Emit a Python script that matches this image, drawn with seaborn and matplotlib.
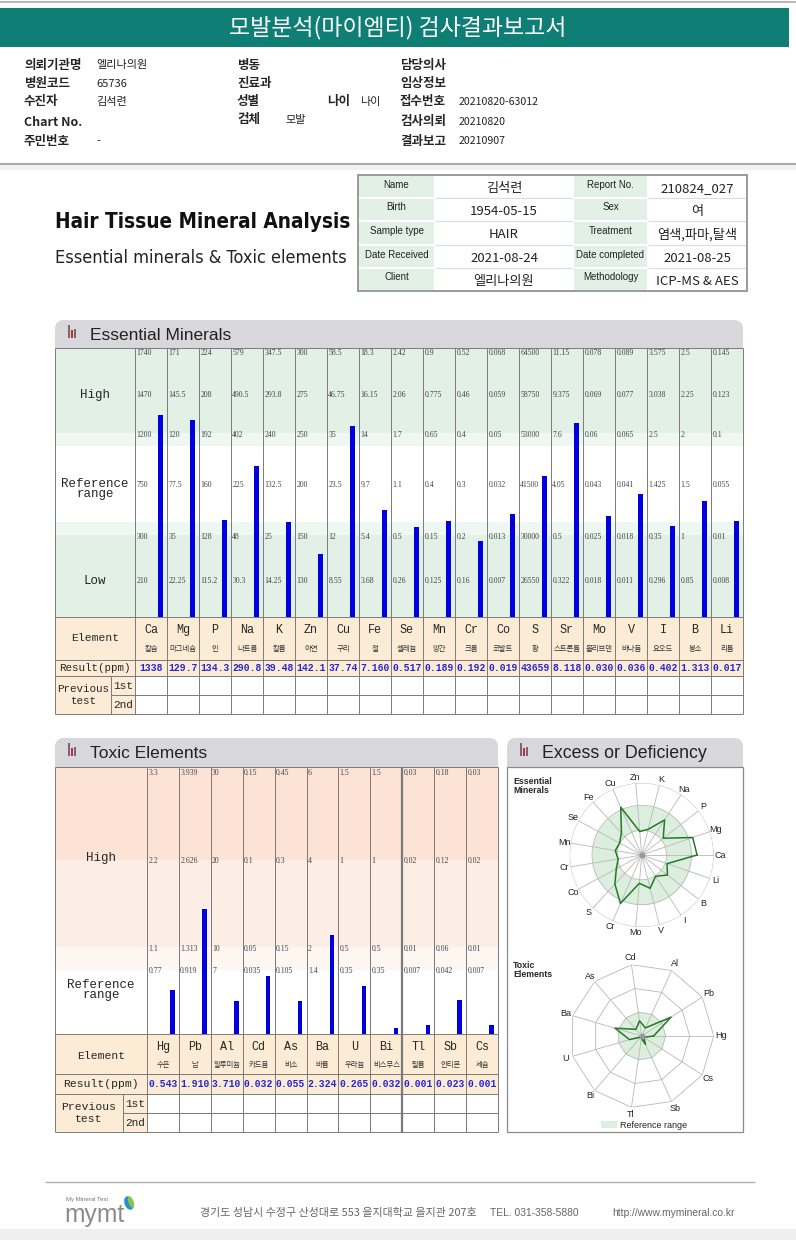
import numpy as np
import pandas as pd
import matplotlib
matplotlib.use("Agg")
import matplotlib.pyplot as plt
import seaborn as sns
from matplotlib.patches import Rectangle, FancyBboxPatch, Ellipse
from matplotlib import font_manager

# ---------------- data ----------------
ess_symbols = ["Ca", "Mg", "P", "Na", "K", "Zn", "Cu", "Fe", "Se", "Mn",
               "Cr", "Co", "S", "Sr", "Mo", "V", "I", "B", "Li"]
ess_korean = ["칼슘", "마그네슘", "인", "나트륨", "칼륨", "아연", "구리", "철", "셀레늄", "망간",
              "크롬", "코발트", "황", "스트론튬", "몰리브덴", "바나듐", "요오드", "붕소", "리튬"]
ess_result = [1338, 129.7, 134.3, 290.8, 39.48, 142.1, 37.74, 7.160, 0.517, 0.189,
              0.192, 0.019, 43659, 8.118, 0.030, 0.036, 0.402, 1.313, 0.017]
ess_low2 = [210, 22.25, 115.2, 30.3, 14.25, 130, 8.55, 3.68, 0.26, 0.125,
            0.16, 0.007, 26550, 0.322, 0.018, 0.011, 0.296, 0.85, 0.008]
ess_low1 = [300, 35, 128, 48, 25, 150, 12, 5.4, 0.5, 0.15,
            0.2, 0.013, 30000, 0.5, 0.025, 0.018, 0.35, 1, 0.01]
ess_mid = [750, 77.5, 160, 225, 132.5, 200, 23.5, 9.7, 1.1, 0.4,
           0.3, 0.032, 41500, 4.05, 0.043, 0.041, 1.425, 1.5, 0.055]
ess_high1 = [1200, 120, 192, 402, 240, 250, 35, 14, 1.7, 0.65,
             0.4, 0.05, 53000, 7.6, 0.06, 0.065, 2.5, 2, 0.1]
ess_high2 = [1470, 145.5, 208, 490.5, 293.8, 275, 46.75, 16.15, 2.06, 0.775,
             0.46, 0.059, 58750, 9.375, 0.069, 0.077, 3.038, 2.25, 0.123]
ess_high3 = [1740, 171, 224, 579, 347.5, 300, 58.5, 18.3, 2.42, 0.9,
             0.52, 0.068, 64500, 11.15, 0.078, 0.089, 3.575, 2.5, 0.145]
ess_radar_labels = ["Ca", "Mg", "P", "Na", "K", "Zn", "Cu", "Fe", "Se", "Mn",
                    "Cr", "Co", "S", "Cr", "Mo", "V", "I", "B", "Li"]

tox_symbols = ["Hg", "Pb", "Al", "Cd", "As", "Ba", "U", "Bi", "Tl", "Sb", "Cs"]
tox_korean = ["수은", "납", "알루미늄", "카드뮴", "비소", "바륨", "우라늄", "비스무스", "탈륨", "안티몬", "세슘"]
tox_result = [0.543, 1.910, 3.710, 0.032, 0.055, 2.324, 0.265, 0.032, 0.001, 0.023, 0.001]
tox_lvl1 = [0.77, 0.919, 7, 0.035, 0.105, 1.4, 0.35, 0.35, 0.007, 0.042, 0.007]
tox_lvl2 = [1.1, 1.313, 10, 0.05, 0.15, 2, 0.5, 0.5, 0.01, 0.06, 0.01]
tox_lvl3 = [2.2, 2.626, 20, 0.1, 0.3, 4, 1, 1, 0.02, 0.12, 0.02]
tox_lvl4 = [3.3, 3.939, 30, 0.15, 0.45, 6, 1.5, 1.5, 0.03, 0.18, 0.03]

info_col1_labels = ["의뢰기관명", "병원코드", "수진자", "Chart No.", "주민번호"]
info_col1_values = ["엘리나의원", "65736", "김석련", "", "-"]
info_col2_labels = ["병동", "진료과", "성별", "검체"]
info_col2_values = ["", "", "", "모발"]
info_col3_labels = ["담당의사", "임상정보", "접수번호", "검사의뢰", "결과보고"]
info_col3_values = ["", "", "20210820-63012", "20210820", "20210907"]

sample_labels_left = ["Name", "Birth", "Sample type", "Date Received", "Client"]
sample_values_left = ["김석련", "1954-05-15", "HAIR", "2021-08-24", "엘리나의원"]
sample_labels_right = ["Report No.", "Sex", "Treatment", "Date completed", "Methodology"]
sample_values_right = ["210824_027", "여", "염색,파마,탈색", "2021-08-25", "ICP-MS & AES"]

# ---------------- style ----------------
sns.set_theme(style="white")
KR = "Noto Sans CJK KR"
SANS = "Liberation Sans"
SERIF = "Liberation Serif"
MONO = "Liberation Mono"
plt.rcParams["font.family"] = [SANS, KR, "DejaVu Sans"]
available = {f.name for f in font_manager.fontManager.ttflist}
NARROW = "Liberation Sans Narrow" if "Liberation Sans Narrow" in available else SANS
has_condensed = any(f.name == "DejaVu Sans" and f.stretch == "condensed"
                    for f in font_manager.fontManager.ttflist)
TITLE_FONT = dict(family="DejaVu Sans", fontstretch="condensed") if has_condensed else dict(family=NARROW)

TEAL = "#0f7f76"
GREEN = "#e2f0e6"
GREEN_L = "#eef7f1"
PEACH = "#fcecd5"
PEACH_D = "#fce3d5"
PEACH_M = "#fdeee5"
PEACH_L = "#fef6f1"
HEAD_GRAY = "#d8d8dc"
BLUE = "#0000dd"
RADAR_GREEN = "#dcefdf"
LINE = "#7a7a7a"

W, H = 796, 1240
fig = plt.figure(figsize=(W / 100, H / 100), dpi=100)
ax0 = fig.add_axes([0, 0, 1, 1])
ax0.set_xlim(0, W)
ax0.set_ylim(H, 0)
ax0.axis("off")


def box(x0, y0, x1, y1, fc="none", ec="none", lw=0, z=1):
    ax0.add_patch(Rectangle((x0, y0), x1 - x0, y1 - y0, facecolor=fc,
                            edgecolor=ec, linewidth=lw, zorder=z))


def hline(y, x0, x1, c=LINE, lw=0.7, z=3):
    ax0.plot([x0, x1], [y, y], color=c, lw=lw, zorder=z, solid_capstyle="butt")


def vline(x, y0, y1, c=LINE, lw=0.7, z=3):
    ax0.plot([x, x], [y0, y1], color=c, lw=lw, zorder=z, solid_capstyle="butt")


def fit(t, width):
    r = fig.canvas.get_renderer()
    w = t.get_window_extent(renderer=r).width
    if w > 0:
        t.set_fontsize(t.get_fontsize() * width / w)


def panel_header(x0, x1, y0, title, text_w):
    ax0.add_patch(FancyBboxPatch((x0, y0), x1 - x0, 40,
                                 boxstyle="round,pad=0,rounding_size=9",
                                 facecolor=HEAD_GRAY, edgecolor="none", zorder=1))
    box(x0 + 13, y0 + 5, x0 + 15, y0 + 18, fc="#6d6d6d", z=2)
    box(x0 + 16, y0 + 10, x0 + 18, y0 + 18, fc="#d9262c", z=2)
    box(x0 + 19, y0 + 9, x0 + 21, y0 + 18, fc="#6d6d6d", z=2)
    t = ax0.text(x0 + 35, y0 + 15, title, fontsize=12, ha="left", va="center",
                 family=SANS, color="#222", zorder=4)
    fit(t, text_w)


def fmt_result(v):
    if v >= 1000:
        return f"{v:.0f}"
    if v >= 1:
        return f"{v:.{4 - len(str(int(v)))}f}"
    return f"{v:.3f}"


# ---------------- report header ----------------
hline(2, 0, W, "#b8b8b8", 1.4)
box(0, 8, 789, 47, fc=TEAL)
t = ax0.text(398, 28, "모발분석(마이엠티) 검사결과보고서", color="white", ha="center",
             va="center", family=KR, fontsize=15, zorder=4)
fit(t, 336)

rows_y = [65, 84, 102, 122, 141]
for y, lab, val in zip(rows_y, info_col1_labels, info_col1_values):
    ax0.text(24, y, lab, family=KR, fontweight="bold", fontsize=9, va="center")
    ax0.text(96, y, val, family=KR, fontsize=8, va="center", color="#222")
for y, lab, val in zip([65, 84, 102, 120], info_col2_labels, info_col2_values):
    ax0.text(237, y, lab, family=KR, fontweight="bold", fontsize=9, va="center")
    ax0.text(285, y, val, family=KR, fontsize=8, va="center", color="#222")
ax0.text(327, 102, "나이", family=KR, fontweight="bold", fontsize=9, va="center")
ax0.text(360, 102, "나이", family=KR, fontsize=8, va="center", color="#222")
for y, lab, val in zip(rows_y, info_col3_labels, info_col3_values):
    ax0.text(400, y, lab, family=KR, fontweight="bold", fontsize=9, va="center")
    ax0.text(459, y, val, family=KR, fontsize=7.6, va="center", color="#222")
hline(164, 0, W, "#a8a8a8", 1.4)
box(0, 165, W, 170, fc="#f1f1f1")

# ---------------- title block ----------------
t = ax0.text(55, 222, "Hair Tissue Mineral Analysis", fontweight="bold",
             fontsize=22, ha="left", va="center", color="#111", **TITLE_FONT)
fit(t, 293)
t = ax0.text(55, 258, "Essential minerals & Toxic elements",
             fontsize=15, ha="left", va="center", color="#222", **TITLE_FONT)
fit(t, 292)

sx = [358, 435, 573, 648, 747]
sy = [175, 198, 221, 245, 268, 291]
box(358, 175, 747, 291, fc="white")
for r in range(5):
    y0, y1 = sy[r], sy[r + 1]
    box(sx[0], y0, sx[1], y1, fc=GREEN, ec="white", lw=1.5, z=2)
    box(sx[2], y0, sx[3], y1, fc=GREEN, ec="white", lw=1.5, z=2)
    if r < 4:
        hline(y1, sx[1], sx[2], "#dcdcdc", 0.8)
        hline(y1, sx[3], sx[4], "#dcdcdc", 0.8)
    yc = (y0 + y1) / 2
    ax0.text((sx[0] + sx[1]) / 2, yc - 2, sample_labels_left[r], family=NARROW,
             fontsize=7, ha="center", va="center", color="#222", zorder=4)
    ax0.text((sx[2] + sx[3]) / 2, yc - 2, sample_labels_right[r], family=NARROW,
             fontsize=7, ha="center", va="center", color="#222", zorder=4)
    ax0.text((sx[1] + sx[2]) / 2, yc + 2, sample_values_left[r], family=KR,
             fontsize=9.5, ha="center", va="center", color="#222", zorder=4)
    ax0.text((sx[3] + sx[4]) / 2, yc + 2, sample_values_right[r], family=KR,
             fontsize=9.5, ha="center", va="center", color="#222", zorder=4)
box(358, 175, 747, 291, ec="#9a9a9a", lw=1.4, z=5)

# ---------------- essential minerals ----------------
EX0, EX1, EC0, ECW = 55, 743, 135, 32
panel_header(EX0, EX1, 320, "Essential Minerals", 141)
box(EX0, 348, EX1, 433, fc=GREEN, z=2)
box(EX0, 433, EX1, 446, fc=GREEN_L, z=2)
box(EX0, 446, EX1, 522, fc="white", z=2)
box(EX0, 522, EX1, 535, fc=GREEN_L, z=2)
box(EX0, 535, EX1, 617, fc=GREEN, z=2)
box(EX0, 617, EX1, 676, fc=PEACH, z=2)
box(EX0, 676, EC0, 714, fc=PEACH, z=2)
box(EC0, 676, EX1, 714, fc="white", z=2)
for i in range(len(ess_symbols) + 1):
    vline(EC0 + ECW * i, 348, 714)
vline(EX0, 348, 714)
vline(111, 676, 714)
for y in (348, 617, 660, 676, 714):
    hline(y, EX0, EX1)
hline(695, 111, EX1)

ax0.text(95, 395, "High", family=MONO, fontsize=9, ha="center", va="center", zorder=4)
ax0.text(95, 489, "Reference\nrange", family=MONO, fontsize=9, ha="center", va="center",
         linespacing=0.85, zorder=4)
ax0.text(95, 581, "Low", family=MONO, fontsize=9, ha="center", va="center", zorder=4)
ax0.text(95, 638, "Element", family=MONO, fontsize=8.2, ha="center", va="center", zorder=4)
ax0.text(95, 668, "Result(ppm)", family=MONO, fontsize=7.8, ha="center", va="center", zorder=4)
ax0.text(83, 695, "Previous\ntest", family=MONO, fontsize=7.8, ha="center", va="center",
         linespacing=1.15, zorder=4)
ax0.text(123, 686, "1st", family=MONO, fontsize=8, ha="center", va="center", zorder=4)
ax0.text(123, 705, "2nd", family=MONO, fontsize=8, ha="center", va="center", zorder=4)
for i, (sym, kr, v) in enumerate(zip(ess_symbols, ess_korean, ess_result)):
    xc = EC0 + ECW * i + ECW / 2
    ax0.text(xc, 630, sym, family=MONO, fontsize=8.5, ha="center", va="center", zorder=4)
    ax0.text(xc, 649, kr, family=KR, fontsize=5.3, ha="center", va="center",
             color="#333", zorder=4)
    ax0.text(xc, 668, fmt_result(v), family=MONO, fontweight="bold", fontsize=7,
             ha="center", va="center", color="#2424e0", zorder=4)

ess_thresholds = np.array([ess_low2, ess_low1, ess_mid, ess_high1, ess_high2, ess_high3]).T
ESS_LEVEL_PX = [0, 22, 89, 132, 182, 222, 264]
ESS_TEXT_PX = [36, 80, 132, 182, 222, 264]
ess_df = pd.DataFrame({
    "element": ess_symbols,
    "height": [np.interp(v, np.r_[0, th], ESS_LEVEL_PX) for v, th in zip(ess_result, ess_thresholds)],
})
axb = fig.add_axes([EC0 / W, 1 - 617 / H, (EX1 - EC0) / W, 269 / H])
sns.barplot(data=ess_df, x="element", y="height", order=ess_symbols, color=BLUE,
            saturation=1, width=0.16, errorbar=None, linewidth=0, ax=axb)
axb.set_xlim(-0.8, len(ess_symbols) - 0.8)
axb.set_ylim(0, 269)
axb.axis("off")
for i, th in enumerate(ess_thresholds):
    for v, ty in zip(th, ESS_TEXT_PX):
        axb.text(i - 0.76, ty, f"{v:g}", family=SERIF, fontsize=5.6, ha="left",
                 va="center", color="#444")

# ---------------- toxic elements ----------------
TX0, TX1, TC0 = 55, 498, 147
TCW = (TX1 - TC0) / len(tox_symbols)
panel_header(TX0, TX1, 738, "Toxic Elements", 117)
box(TX0, 767, TX1, 860, fc=PEACH_D, z=2)
box(TX0, 860, TX1, 947, fc=PEACH_M, z=2)
box(TX0, 947, TX1, 970, fc=PEACH_L, z=2)
box(TX0, 970, TX1, 1034, fc="white", z=2)
box(TX0, 1034, TX1, 1094, fc=PEACH, z=2)
box(TX0, 1094, TC0, 1132, fc=PEACH, z=2)
box(TC0, 1094, TX1, 1132, fc="white", z=2)
for i in range(len(tox_symbols) + 1):
    vline(TC0 + TCW * i, 767, 1132, lw=1.6 if i == 8 else 0.7)
vline(TX0, 767, 1132)
vline(123, 1094, 1132)
for y in (767, 1034, 1074, 1094, 1132):
    hline(y, TX0, TX1)
hline(1113, 123, TX1)

ax0.text(101, 858, "High", family=MONO, fontsize=9, ha="center", va="center", zorder=4)
ax0.text(101, 990, "Reference\nrange", family=MONO, fontsize=9, ha="center", va="center",
         linespacing=0.85, zorder=4)
ax0.text(101, 1056, "Element", family=MONO, fontsize=8.2, ha="center", va="center", zorder=4)
ax0.text(101, 1084, "Result(ppm)", family=MONO, fontsize=8.2, ha="center", va="center", zorder=4)
ax0.text(89, 1113, "Previous\ntest", family=MONO, fontsize=8.2, ha="center", va="center",
         linespacing=1.15, zorder=4)
ax0.text(135, 1104, "1st", family=MONO, fontsize=8, ha="center", va="center", zorder=4)
ax0.text(135, 1123, "2nd", family=MONO, fontsize=8, ha="center", va="center", zorder=4)
for i, (sym, kr, v) in enumerate(zip(tox_symbols, tox_korean, tox_result)):
    xc = TC0 + TCW * i + TCW / 2
    ax0.text(xc, 1047, sym, family=MONO, fontsize=8.5, ha="center", va="center", zorder=4)
    ax0.text(xc, 1065, kr, family=KR, fontsize=5.3, ha="center", va="center",
             color="#333", zorder=4)
    ax0.text(xc, 1084, f"{v:.3f}", family=MONO, fontweight="bold", fontsize=7,
             ha="center", va="center", color="#2424e0", zorder=4)

tox_thresholds = np.array([tox_lvl1, tox_lvl2, tox_lvl3, tox_lvl4]).T
TOX_LEVEL_PX = [0, 63, 85, 173, 261]
tox_df = pd.DataFrame({
    "element": tox_symbols,
    "height": [np.interp(v, np.r_[0, th], TOX_LEVEL_PX) for v, th in zip(tox_result, tox_thresholds)],
})
axt = fig.add_axes([TC0 / W, 1 - 1034 / H, (TX1 - TC0) / W, 267 / H])
sns.barplot(data=tox_df, x="element", y="height", order=tox_symbols, color=BLUE,
            saturation=1, width=0.14, errorbar=None, linewidth=0, ax=axt)
axt.set_xlim(-0.8, len(tox_symbols) - 0.8)
axt.set_ylim(0, 267)
axt.axis("off")
for i, th in enumerate(tox_thresholds):
    for v, ty in zip(th, TOX_LEVEL_PX[1:]):
        axt.text(i - 0.76, ty, f"{v:g}", family=SERIF, fontsize=5.6, ha="left",
                 va="center", color="#444")

# ---------------- excess or deficiency ----------------
panel_header(507, 743, 738, "Excess or Deficiency", 165)
box(507, 767, 743, 1132, fc="white", ec="#8a8a8a", lw=0.9, z=2)
ax0.text(513, 777, "Essential\nMinerals", fontweight="bold", fontsize=6.3, ha="left",
         va="top", linespacing=1.0, zorder=4)
ax0.text(513, 961, "Toxic\nElements", fontweight="bold", fontsize=6.3, ha="left",
         va="top", linespacing=1.0, zorder=4)
box(601, 1121, 617, 1128, fc=RADAR_GREEN, z=4)
ax0.text(620, 1125, "Reference range", fontsize=6.5, ha="left", va="center", zorder=4)

GRID = "#b8b8b8"
full = np.linspace(0, 2 * np.pi, 240)

# essential radar
n_e = len(ess_symbols)
ang_e = np.arange(n_e) * 2 * np.pi / n_e
ess_r = [np.interp(v, [0, th[1], th[3], th[4], th[5]], [0, 1, 2, 2.45, 2.9])
         for v, th in zip(ess_result, ess_thresholds)]
R = 72
axe = fig.add_axes([(641.7 - R) / W, 1 - (855 + R) / H, 2 * R / W, 2 * R / H], projection="polar")
axe.set_ylim(0, 2.9)
axe.axis("off")
axe.fill_between(full, 1, 2, color=RADAR_GREEN, lw=0, zorder=1)
for rr in (1, 2, 2.9):
    axe.plot(full, np.full_like(full, rr), color=GRID, lw=0.6, zorder=2)
for a in ang_e:
    axe.plot([a, a], [0, 2.9], color=GRID, lw=0.6, zorder=2)
axe.plot(np.append(ang_e, ang_e[0]), np.append(ess_r, ess_r[0]), color="#237a23", lw=1.1, zorder=3)
axe.scatter([0], [0], s=10, color="#999", zorder=4)
for a, lab in zip(ang_e, ess_radar_labels):
    axe.text(a, 3.15, lab, ha="center", va="center", fontsize=6.5, color="#222")

# toxic radar
n_t = len(tox_symbols)
ang_t = np.arange(n_t) * 2 * np.pi / n_t
closed_t = np.append(ang_t, ang_t[0])
tox_r = [min(v / ref, 3) for v, ref in zip(tox_result, tox_lvl2)]
axr = fig.add_axes([(641.7 - R) / W, 1 - (1036 + R) / H, 2 * R / W, 2 * R / H], projection="polar")
axr.set_ylim(0, 3)
axr.axis("off")
axr.fill(closed_t, np.ones_like(closed_t), color=RADAR_GREEN, lw=0, zorder=1)
for rr in (1, 2, 3):
    axr.plot(closed_t, np.full_like(closed_t, rr), color=GRID, lw=0.6, zorder=2)
for a in ang_t:
    axr.plot([a, a], [0, 3], color=GRID, lw=0.6, zorder=2)
axr.plot(closed_t, np.append(tox_r, tox_r[0]), color="#237a23", lw=1.1, zorder=3)
axr.scatter([0], [0], s=10, color="#999", zorder=4)
for a, lab in zip(ang_t, tox_symbols):
    axr.text(a, 3.3, lab, ha="center", va="center", fontsize=6.5, color="#222")

# ---------------- footer ----------------
hline(1182, 45, 755, "#b0b0b0", 1.0)
ax0.text(66, 1199, "My Mineral Test", fontsize=4.3, color="#777", ha="left", va="center")
t = ax0.text(64, 1215, "mymt", fontsize=20, color="#8a8a8a", ha="left", va="center", family=SANS)
fit(t, 60)
ax0.add_patch(Ellipse((129, 1203), 9, 14, angle=-20, facecolor="#2b8fd1", edgecolor="none", zorder=4))
ax0.add_patch(Ellipse((131, 1202), 5, 12, angle=-20, facecolor="#8cc63f", edgecolor="none", zorder=5))
t = ax0.text(200, 1213, "경기도 성남시 수정구 산성대로 553 을지대학교 을지관 207호", family=KR,
             fontsize=7, color="#666", ha="left", va="center")
fit(t, 277)
t = ax0.text(490, 1213, "TEL. 031-358-5880", family=NARROW, fontsize=7, color="#666",
             ha="left", va="center")
fit(t, 88)
t = ax0.text(612, 1213, "http://www.mymineral.co.kr", family=NARROW, fontsize=7, color="#666",
             ha="left", va="center")
fit(t, 123)
box(0, 1229, W, H, fc="#efefef")

fig.savefig("out.png", dpi=100)
